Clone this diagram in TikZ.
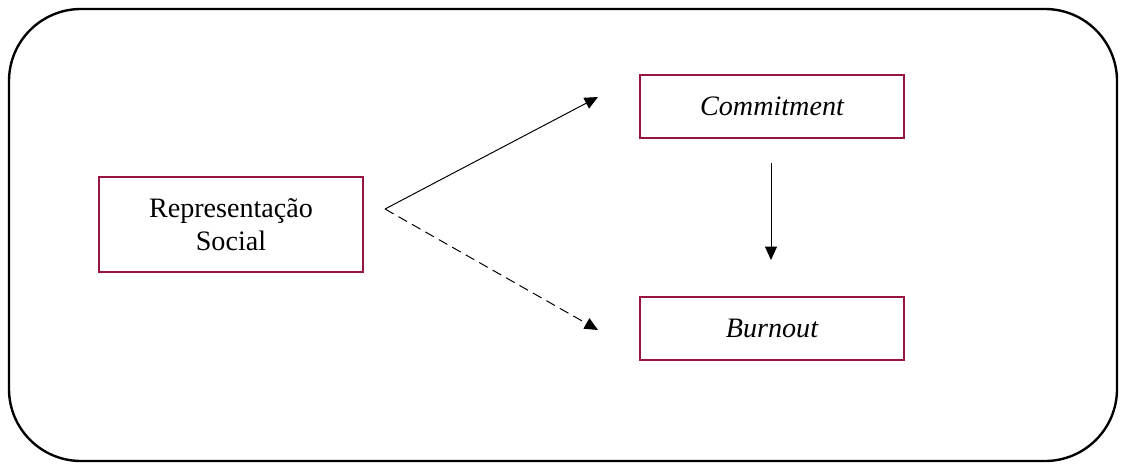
\documentclass[tikz,border=0pt]{standalone}
\usepackage{fontspec}
\setmainfont{Liberation Serif}
\usetikzlibrary{arrows.meta,positioning}
\definecolor{BoxRed}{HTML}{961640}
\begin{document}
\begin{tikzpicture}[x=0.025cm,y=-0.025cm,>={Triangle[length=9.5pt,width=8.5pt]},
 var/.style={draw=BoxRed,line width=1.6pt,minimum width=6.6cm,align=center,
             font=\fontsize{20}{23.5}\selectfont},
 link/.style={->,line width=0.7pt}]
\useasboundingbox (0,0) rectangle (1123,466);
\draw[line width=1.7pt,rounded corners=1.8cm] (9,9) rectangle (1117,461);
\node[var,minimum height=2.375cm] (rep) at (231,224.5) {Representação\\Social};
\node[var,minimum height=1.575cm] (com) at (772,106.5) {\itshape Commitment};
\node[var,minimum height=1.575cm] (bur) at (772,328.5) {\itshape Burnout};
\coordinate (fork) at (385,209);
\coordinate (comin) at (598,97);
\coordinate (burin) at (598,330);
\coordinate (comout) at (771,163);
\coordinate (burtop) at (771,260);
\draw[link] (fork)--(comin);
\draw[link,dashed,dash pattern=on 7pt off 4pt] (fork)--(burin);
\draw[link] (comout)--(burtop);
\end{tikzpicture}
\end{document}
